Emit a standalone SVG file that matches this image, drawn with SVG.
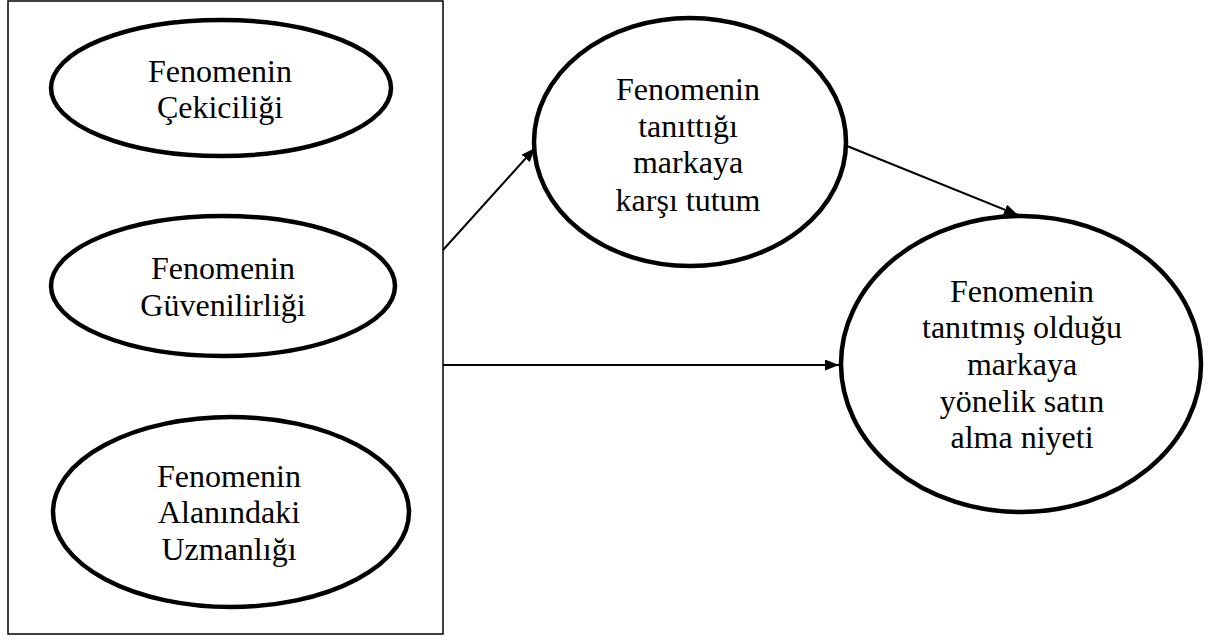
<svg xmlns="http://www.w3.org/2000/svg" width="1221" height="643" viewBox="0 0 1221 643">
<style>
.node{fill:#fff;stroke:#000;stroke-width:4.5}
.box{fill:#fff;stroke:#000;stroke-width:1.5}
.lbl{font-family:"Liberation Serif","Times New Roman",serif;font-size:32px;fill:#000;text-anchor:middle}
.conn{stroke:#000;stroke-width:2;fill:none}
</style>
<defs>
<marker id="ah" viewBox="0 0 14 11" refX="14" refY="5.5" markerWidth="14" markerHeight="11" markerUnits="userSpaceOnUse" orient="auto">
<path d="M0,0 L14,5.5 L0,11 Z" fill="#000"/>
</marker>
</defs>
<g id="group-box"><rect class="box" x="8" y="1" width="435" height="633"/></g>
<g id="node-cekicilik">
<ellipse class="node" cx="221" cy="88" rx="170" ry="68"/>
<text class="lbl" x="220" y="82">Fenomenin</text>
<text class="lbl" x="220" y="118">Çekiciliği</text>
</g>
<g id="node-guvenilirlik">
<ellipse class="node" cx="223" cy="286" rx="172" ry="70"/>
<text class="lbl" x="223" y="279">Fenomenin</text>
<text class="lbl" x="223" y="316">Güvenilirliği</text>
</g>
<g id="node-uzmanlik">
<ellipse class="node" cx="231" cy="512" rx="178" ry="95"/>
<text class="lbl" x="229" y="487">Fenomenin</text>
<text class="lbl" x="229" y="523">Alanındaki</text>
<text class="lbl" x="229" y="560">Uzmanlığı</text>
</g>
<g id="node-tutum">
<ellipse class="node" cx="690" cy="142" rx="156" ry="124"/>
<text class="lbl" x="688" y="100">Fenomenin</text>
<text class="lbl" x="688" y="137">tanıttığı</text>
<text class="lbl" x="688" y="173">markaya</text>
<text class="lbl" x="688" y="211">karşı tutum</text>
</g>
<g id="node-niyet">
<ellipse class="node" cx="1021" cy="364" rx="180" ry="148"/>
<text class="lbl" x="1022" y="302">Fenomenin</text>
<text class="lbl" x="1022" y="338">tanıtmış olduğu</text>
<text class="lbl" x="1022" y="375">markaya</text>
<text class="lbl" x="1022" y="412">yönelik satın</text>
<text class="lbl" x="1022" y="448">alma niyeti</text>
</g>
<g id="connectors">
<line class="conn" x1="443" y1="250" x2="535" y2="148" marker-end="url(#ah)"/>
<line class="conn" x1="443" y1="365" x2="839" y2="365" marker-end="url(#ah)"/>
<line class="conn" x1="847" y1="146" x2="1018" y2="215" marker-end="url(#ah)"/>
</g>
</svg>
